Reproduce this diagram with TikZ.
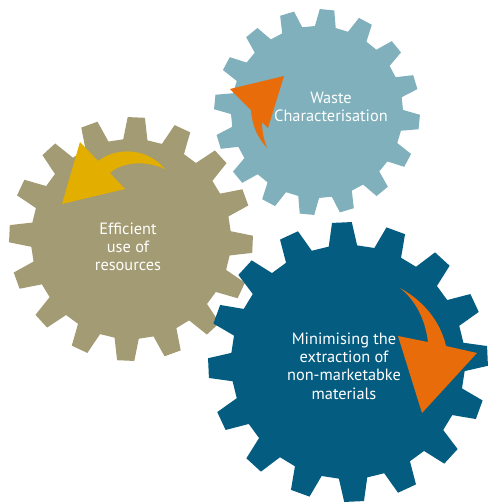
\documentclass[tikz,border=0pt]{standalone}
\usepackage{fontspec}
\setmainfont{PT Sans}
\usepackage{tikz}

\definecolor{wastecol}{HTML}{7FB0BB}
\definecolor{usecol}{HTML}{A39B73}
\definecolor{extractcol}{HTML}{045D81}
\definecolor{arroworange}{HTML}{E96C0A}
\definecolor{arrowgold}{HTML}{E2AE00}

% center, colour, teeth, outer radius, root radius, phase
\newcommand{\drawgear}[6]{%
  \begin{scope}[shift={#1}]
    \pgfmathsetmacro\pitch{360/#3}
    \pgfmathsetmacro\tip{0.18*\pitch}
    \pgfmathsetmacro\base{0.31*\pitch}
    \fill[#2] ({#6-\tip}:#4)
      \foreach \i in {1,...,#3}{
        -- ({#6+\pitch*(\i-1)+\tip}:#4)
        -- ({#6+\pitch*(\i-1)+\base}:#5)
        -- ({#6+\pitch*\i-\base}:#5)
        -- ({#6+\pitch*\i-\tip}:#4)
      } -- cycle;
  \end{scope}}

\begin{document}
\begin{tikzpicture}
    [x=0.02cm,y=-0.02cm,
     gearlabel/.style={text=white,align=center,font=\fontsize{9.3}{10.4}\selectfont}]
    \useasboundingbox (0,0) rectangle (498,504);
    \drawgear{(131,239)}{usecol}{16}{122}{100}{-87.5}
    \drawgear{(317,112)}{wastecol}{16}{103}{86}{-84.4}
    \drawgear{(348,362)}{extractcol}{16}{140}{117}{-92.5}
    % arrows
    \fill[arroworange] (230,89) -- (284,76) -- (268,128) -- (262,122)
        .. controls (262,132) and (264,140) .. (267,148)
        .. controls (258,138) and (252,126) .. (251,110) -- cycle;
    \fill[arrowgold] (80,142) -- (98,161)
        .. controls (115,148) and (145,146) .. (165,169)
        .. controls (145,160) and (122,162) .. (110,173)
        -- (125,189) -- (62,204) -- cycle;
    \fill[arroworange] (398,336) -- (428,342)
        .. controls (425,318) and (415,300) .. (400,288)
        .. controls (422,300) and (440,320) .. (446,346)
        -- (477,353) -- (422,413) -- cycle;
    \node[gearlabel] (waste) at (331,107) {Waste\\Characterisation};
    \node[gearlabel] (efficient) at (128,247) {Efficient\\use of\\resources};
    \node[gearlabel] (minimise) at (344,366) {Minimising the\\extraction of\\non-marketabke\\materials};
\end{tikzpicture}
\end{document}
